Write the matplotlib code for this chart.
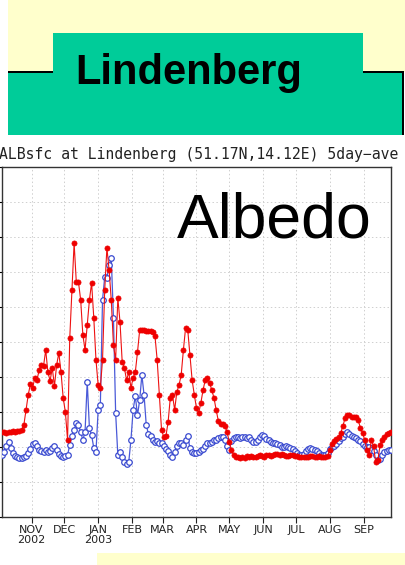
import numpy as np
import pandas as pd
import matplotlib
matplotlib.use("Agg")
import matplotlib.pyplot as plt
from matplotlib.patches import Rectangle

# 5-day averaged surface albedo at Lindenberg, sampled every 2 days from 2002-10-05
red = [0.243, 0.243, 0.240, 0.243, 0.243, 0.246, 0.243, 0.246, 0.246, 0.249,
       0.263, 0.306, 0.349, 0.380, 0.369, 0.397, 0.391, 0.420, 0.434, 0.431,
       0.477, 0.414, 0.389, 0.426, 0.374, 0.434, 0.469, 0.414, 0.340, 0.300,
       0.220, 0.511, 0.649, 0.783, 0.671, 0.671, 0.620, 0.520, 0.477, 0.549,
       0.620, 0.669, 0.569, 0.449, 0.377, 0.369, 0.449, 0.649, 0.769, 0.706,
       0.620, 0.491, 0.449, 0.626, 0.557, 0.443, 0.426, 0.391, 0.414, 0.369,
       0.397, 0.414, 0.471, 0.534, 0.534, 0.534, 0.531, 0.531, 0.531, 0.529,
       0.517, 0.449, 0.349, 0.249, 0.229, 0.231, 0.271, 0.340, 0.349, 0.306,
       0.357, 0.377, 0.406, 0.477, 0.540, 0.534, 0.463, 0.391, 0.349, 0.311,
       0.297, 0.326, 0.363, 0.391, 0.397, 0.383, 0.363, 0.340, 0.306, 0.274,
       0.266, 0.266, 0.260, 0.243, 0.214, 0.191, 0.177, 0.171,
       0.171, 0.169, 0.171, 0.169, 0.174, 0.171, 0.174, 0.171, 0.171, 0.174,
       0.177, 0.174, 0.171, 0.177, 0.177, 0.174, 0.177, 0.180, 0.180, 0.177,
       0.180, 0.177, 0.174, 0.174, 0.177, 0.177, 0.174, 0.174, 0.171, 0.171,
       0.171, 0.171, 0.171, 0.174, 0.174, 0.171, 0.171, 0.174, 0.171, 0.171,
       0.171, 0.174,
       0.191, 0.209, 0.217, 0.223, 0.229, 0.240, 0.260, 0.283, 0.291, 0.291,
       0.286, 0.286, 0.286, 0.277, 0.254, 0.240, 0.220, 0.191, 0.177, 0.220,
       0.203, 0.157, 0.163, 0.206, 0.220, 0.229, 0.237, 0.240, 0.243]

blue = [0.177, 0.186, 0.203, 0.214, 0.197, 0.183, 0.174, 0.171, 0.169, 0.169,
        0.171, 0.174, 0.183, 0.194, 0.209, 0.211, 0.203, 0.191, 0.189, 0.186,
        0.191, 0.186, 0.189, 0.197, 0.203, 0.191, 0.180, 0.174, 0.171, 0.174,
        0.177, 0.206, 0.231, 0.249, 0.269, 0.263, 0.243, 0.220, 0.243, 0.386,
        0.254, 0.234, 0.197, 0.186, 0.306, 0.320, 0.620, 0.686, 0.683, 0.720,
        0.740, 0.569, 0.297, 0.177, 0.186, 0.171, 0.157, 0.151, 0.157, 0.220,
        0.306, 0.346, 0.291, 0.334, 0.406, 0.349, 0.263, 0.237, 0.231, 0.220,
        0.214, 0.217, 0.211, 0.211, 0.203, 0.194, 0.189, 0.177, 0.171, 0.186,
        0.203, 0.211, 0.211, 0.206, 0.220, 0.231, 0.197, 0.186, 0.183, 0.183,
        0.186, 0.191, 0.194, 0.203, 0.211, 0.211, 0.214, 0.220, 0.220, 0.226,
        0.229, 0.229, 0.220, 0.203, 0.191, 0.217, 0.226, 0.229, 0.229, 0.226,
        0.229, 0.229, 0.226, 0.229, 0.220, 0.214, 0.214, 0.220, 0.229, 0.234,
        0.231, 0.223, 0.220, 0.214, 0.211, 0.211, 0.209, 0.206, 0.200, 0.200,
        0.203, 0.200, 0.197, 0.194, 0.189, 0.183, 0.177, 0.177, 0.180, 0.189,
        0.194, 0.197, 0.194, 0.191, 0.189, 0.183, 0.177, 0.177, 0.177, 0.183,
        0.194, 0.200, 0.203, 0.209, 0.217, 0.226, 0.229, 0.237, 0.243, 0.237,
        0.231, 0.229, 0.226, 0.220, 0.217, 0.209, 0.203, 0.200, 0.200, 0.191,
        0.189, 0.177, 0.163, 0.166, 0.177, 0.186, 0.189, 0.191, 0.191]

dates = pd.date_range("2002-10-05", periods=len(red), freq="2D")

month_ticks = pd.date_range("2002-11-01", "2003-09-01", freq="MS")
month_labels = ["NOV\n2002", "DEC", "JAN\n2003", "FEB", "MAR", "APR",
                "MAY", "JUN", "JUL", "AUG", "SEP"]

W, H = 406, 565
fig = plt.figure(figsize=(W / 100, H / 100), dpi=100)
fig.patch.set_facecolor("white")


def px_rect(x0, y0, x1, y1, **kw):
    # rectangle given in pixel coords measured from the top-left corner
    r = Rectangle((x0 / W, 1 - y1 / H), (x1 - x0) / W, (y1 - y0) / H,
                  transform=fig.transFigure, **kw)
    fig.add_artist(r)


yellow = "#FFFFCC"
green = "#00CC99"

# slide banner
px_rect(8, 0, 406, 72, facecolor=yellow, edgecolor="none")
px_rect(8, 72, 403, 135, facecolor=green, edgecolor="none")
px_rect(53, 33, 363, 72, facecolor=green, edgecolor="none")
px_rect(8, 71, 53, 73, facecolor="black", edgecolor="none")
px_rect(363, 71, 403, 73, facecolor="black", edgecolor="none")
px_rect(402, 71, 404, 135, facecolor="black", edgecolor="none")
px_rect(97, 553, 406, 565, facecolor=yellow, edgecolor="none")

fig.text(75 / W, 1 - 84 / H, "Lindenberg", fontsize=30, fontweight="bold",
         family="Liberation Sans", ha="left", va="baseline")

fig.text(-1 / W, 1 - 159 / H, "ALBsfc at Lindenberg (51.17N,14.12E) 5day\u2212ave",
         fontsize=10.6, family="DejaVu Sans Mono", ha="left", va="baseline",
         color="#222222")

ax = fig.add_axes([2 / W, 1 - 517 / H, 389 / W, 350 / H])
ax.plot(dates, blue, color="#4a5ad8", lw=0.9, marker="o", ms=4.0,
        mfc="white", mec="#3a4ad0", mew=0.9, zorder=3)
ax.plot(dates, red, color="#ee1111", lw=0.8, marker="o", ms=3.7,
        mfc="#ee0000", mec="#ee0000", mew=0.5, zorder=4)

ax.set_xlim(pd.Timestamp("2002-10-05"), pd.Timestamp("2003-09-26"))
ax.set_ylim(0, 1.0)
ax.set_yticks(np.arange(0, 1.01, 0.1))
ax.set_yticklabels([])
ax.set_xticks(month_ticks)
ax.set_xticklabels(month_labels, fontsize=8, linespacing=0.95)
ax.tick_params(axis="x", length=4, width=0.8, pad=2, colors="#222222")
ax.tick_params(axis="y", length=4, width=0.8)
ax.grid(True, ls=(0, (1.5, 2.5)), lw=0.7, color="#cfcfcf")
for s in ax.spines.values():
    s.set_linewidth(1.0)
    s.set_color("#333333")

ax.text(175 / 389, 1 - 237 / 350 + 167 / 350, "Albedo", transform=ax.transAxes,
        fontsize=45, family="Liberation Sans", ha="left", va="baseline",
        zorder=5)

fig.savefig("out.png", dpi=100)
